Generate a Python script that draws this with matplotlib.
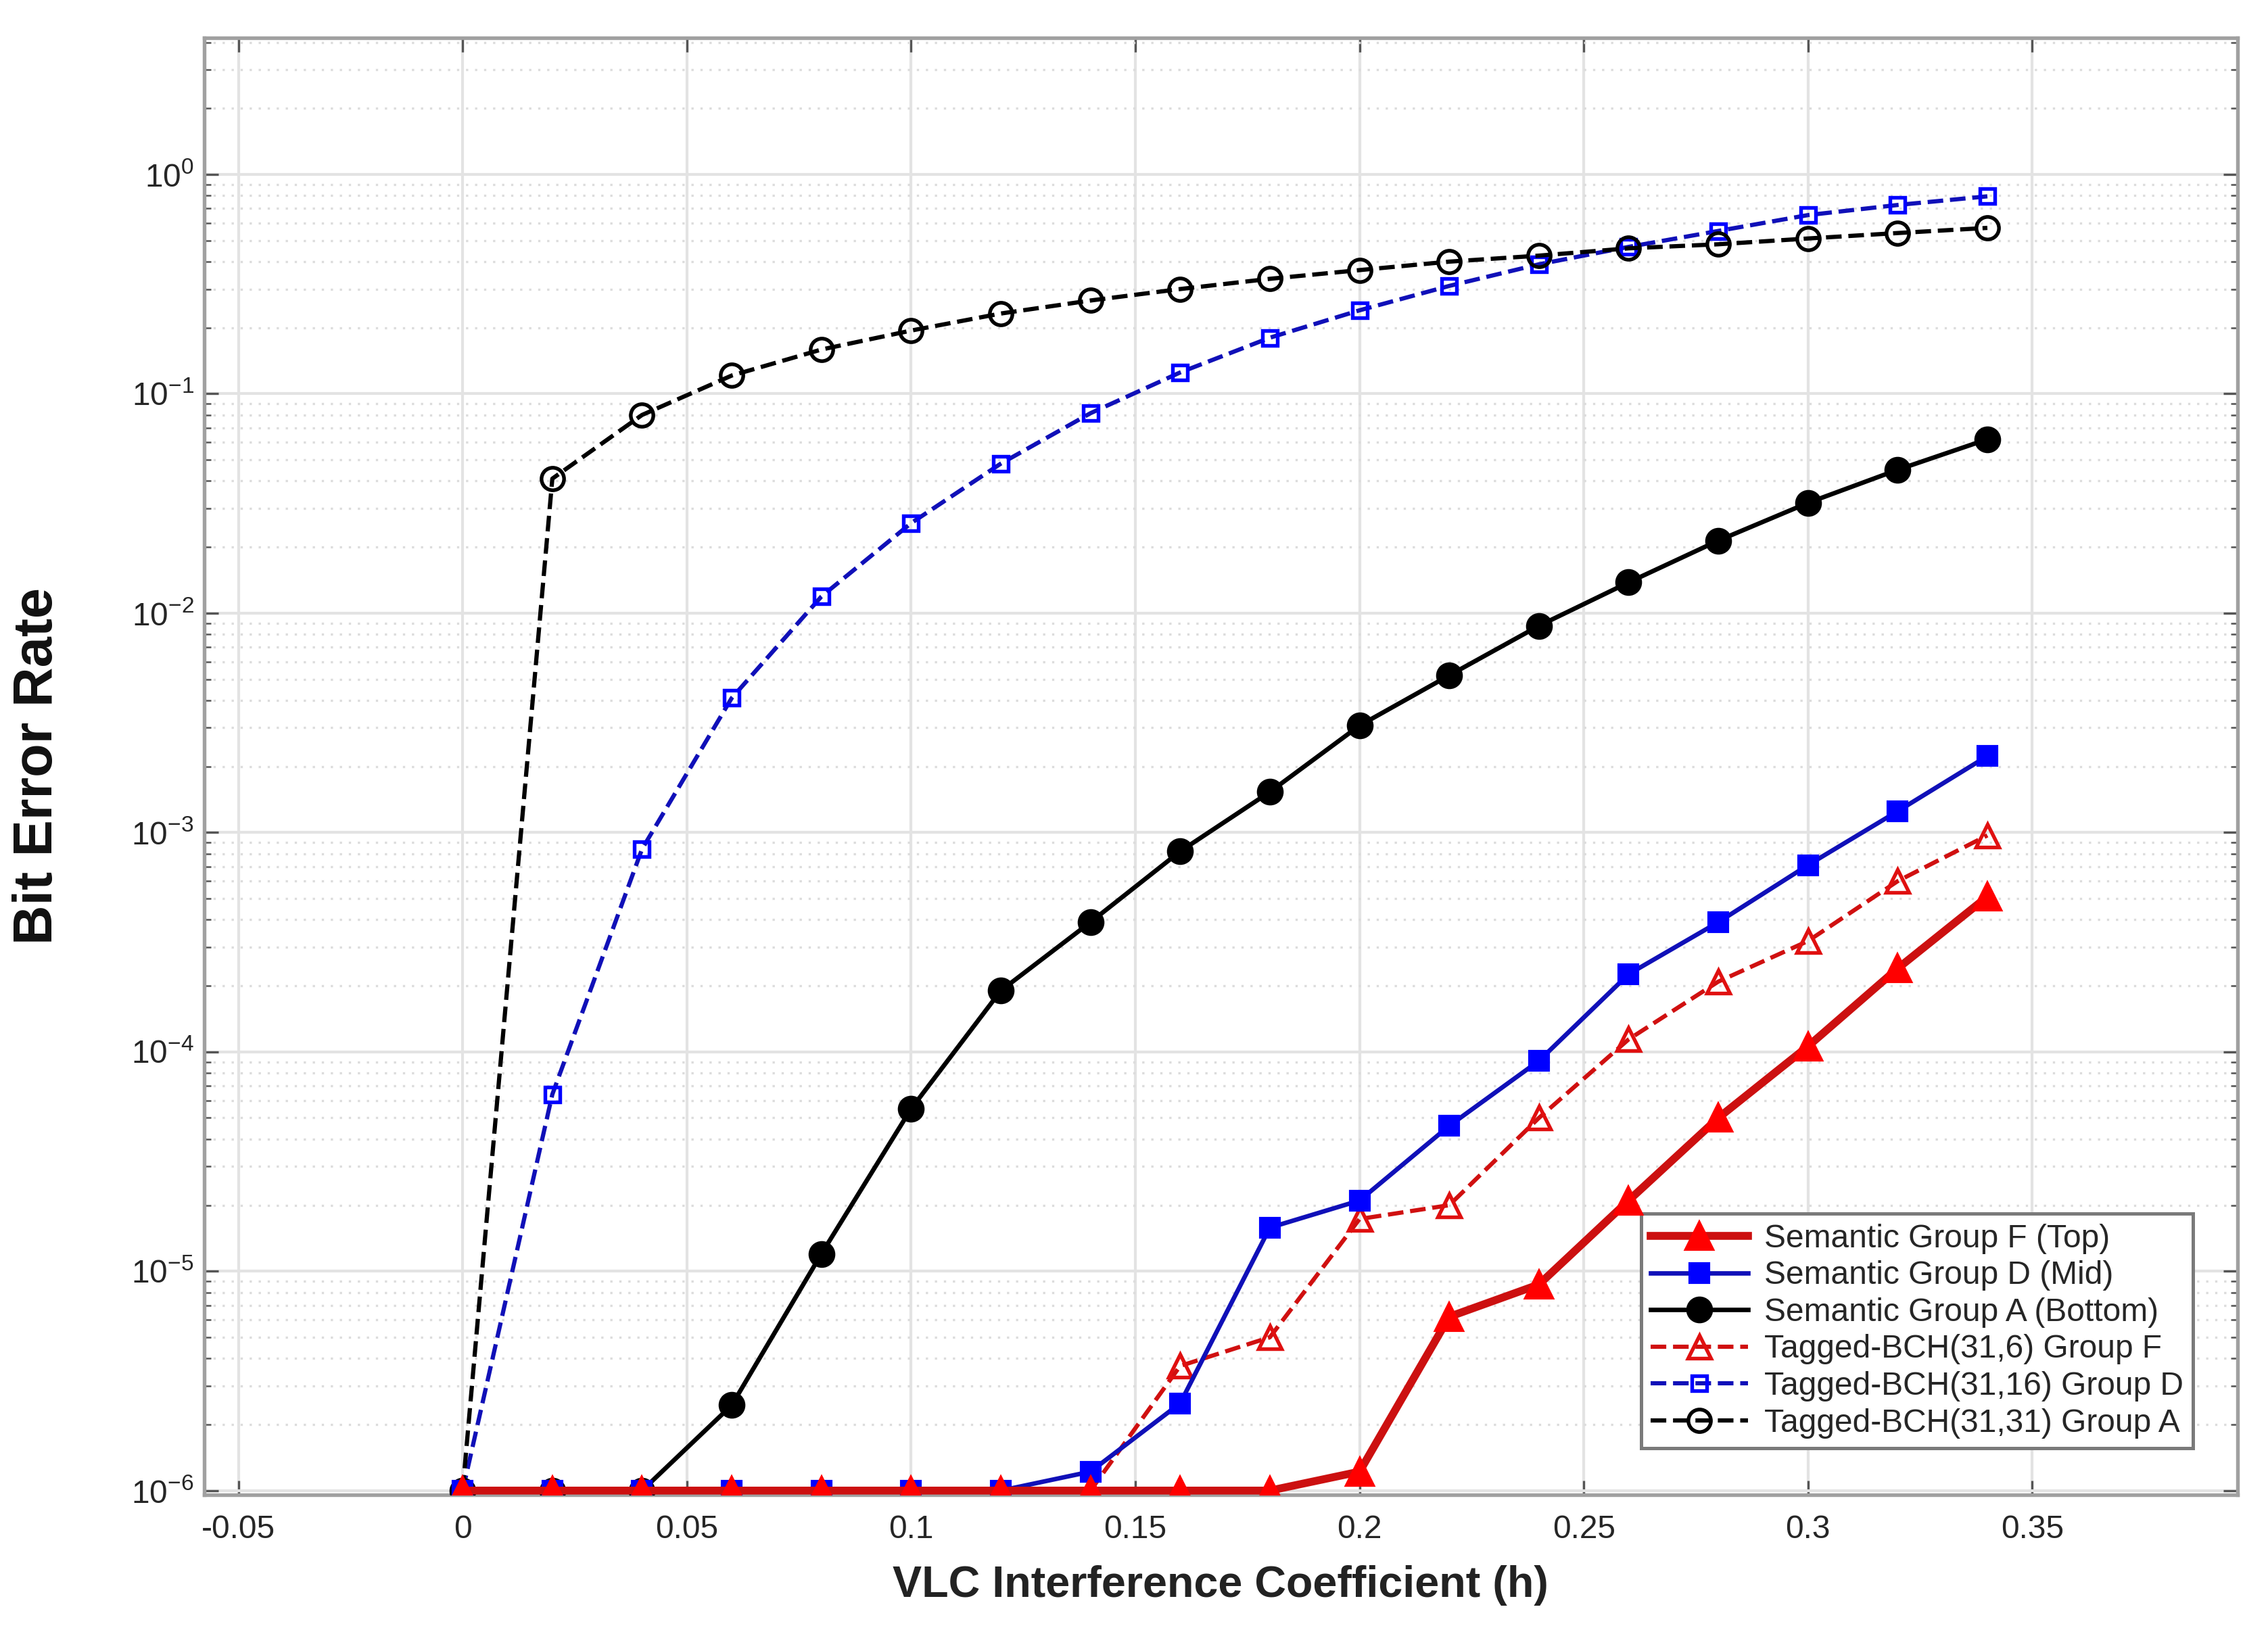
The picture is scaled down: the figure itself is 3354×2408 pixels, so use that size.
import numpy as np
import matplotlib
matplotlib.use("Agg")
import matplotlib.pyplot as plt
from matplotlib.ticker import FixedLocator, NullFormatter

plt.rcParams['font.family'] = ['Liberation Sans', 'DejaVu Sans']
plt.rcParams['mathtext.default'] = 'regular'

# Data
h = [0, 0.02, 0.04, 0.06, 0.08, 0.10, 0.12, 0.14, 0.16,
     0.18, 0.20, 0.22, 0.24, 0.26, 0.28, 0.30, 0.32, 0.34]

sem_F = [1e-6, 1e-6, 1e-6, 1e-6, 1e-6, 1e-6, 1e-6, 1e-6, 1e-6,
         1e-6, 1.22e-6, 6.2e-6, 8.7e-6, 2.1e-5, 5.0e-5, 1.06e-4, 2.4e-4, 5.1e-4]
sem_D = [1e-6, 1e-6, 1e-6, 1e-6, 1e-6, 1e-6, 1e-6, 1.22e-6, 2.5e-6,
         1.58e-5, 2.1e-5, 4.6e-5, 9.1e-5, 2.26e-4, 3.9e-4, 7.1e-4, 1.25e-3, 2.23e-3]
sem_A = [1e-6, 1e-6, 1e-6, 2.45e-6, 1.2e-5, 5.5e-5, 1.9e-4, 3.9e-4, 8.2e-4,
         1.53e-3, 3.07e-3, 5.2e-3, 8.75e-3, 1.38e-2, 2.14e-2, 3.18e-2, 4.5e-2, 6.2e-2]
bch_F = [1e-6, 1e-6, 1e-6, 1e-6, 1e-6, 1e-6, 1e-6, 1e-6, 3.7e-6,
         5.0e-6, 1.73e-5, 2.0e-5, 5.0e-5, 1.14e-4, 2.09e-4, 3.2e-4, 6.0e-4, 9.7e-4]
bch_D = [1e-6, 6.4e-5, 8.4e-4, 4.1e-3, 1.19e-2, 2.57e-2, 4.8e-2, 8.15e-2, 0.125,
         0.18, 0.24, 0.31, 0.389, 0.467, 0.552, 0.652, 0.725, 0.794]
bch_A = [1e-6, 4.1e-2, 8.0e-2, 0.121, 0.159, 0.194, 0.232, 0.266, 0.30,
         0.334, 0.366, 0.40, 0.426, 0.46, 0.48, 0.51, 0.54, 0.57]

xticks = [-0.05, 0, 0.05, 0.1, 0.15, 0.2, 0.25, 0.3, 0.35]
xticklabels = ['-0.05', '0', '0.05', '0.1', '0.15', '0.2', '0.25', '0.3', '0.35']
yticks = [1e-6, 1e-5, 1e-4, 1e-3, 1e-2, 1e-1, 1e0]
yticklabels = ['$10^{-6}$', '$10^{-5}$', '$10^{-4}$', '$10^{-3}$',
               '$10^{-2}$', '$10^{-1}$', '$10^{0}$']

fig = plt.figure(figsize=(3354 / 300, 2408 / 300), dpi=300)
ax = fig.add_axes([0.0899, 0.0817, 0.8967, 0.8952])

ax.semilogy(h, sem_F, '-', color='#cc1010', lw=2.8, marker='^', ms=9.5,
            mfc='#ff0000', mec='#ff0000', zorder=6, label='Semantic Group F (Top)')
ax.semilogy(h, sem_D, '-', color='#1010b8', lw=1.6, marker='s', ms=6.5,
            mfc='#0000ff', mec='#0000ff', zorder=5, label='Semantic Group D (Mid)')
ax.semilogy(h, sem_A, '-', color='black', lw=1.6, marker='o', ms=8.5,
            mfc='black', mec='black', zorder=4, label='Semantic Group A (Bottom)')
ax.semilogy(h, bch_F, '--', color='#d01010', lw=1.5, marker='^', ms=8,
            mfc='none', mec='#e01010', mew=1.3, zorder=3, label='Tagged-BCH(31,6) Group F')
ax.semilogy(h, bch_D, '--', color='#1010b8', lw=1.5, marker='s', ms=5.5,
            mfc='none', mec='#0000ff', mew=1.3, zorder=3, label='Tagged-BCH(31,16) Group D')
ax.semilogy(h, bch_A, '--', color='black', lw=1.5, marker='o', ms=8,
            mfc='none', mec='black', mew=1.3, zorder=3, label='Tagged-BCH(31,31) Group A')

ax.set_xlim(-0.0577, 0.3958)
ax.set_xticks(xticks)
ax.set_xticklabels(xticklabels)
ax.set_yticks(yticks)
ax.set_yticklabels(yticklabels)
minor = [m * 10.0 ** e for e in range(-6, 1) for m in range(2, 10)]
ax.yaxis.set_minor_locator(FixedLocator(minor))
ax.yaxis.set_minor_formatter(NullFormatter())
ax.set_ylim(0.955e-6, 4.2)

ax.grid(True, which='major', color='#e3e3e3', lw=1.0)
ax.grid(True, which='minor', axis='y', color='#dcdcdc', lw=0.8, ls=(0, (1, 3)))
ax.set_axisbelow(True)

for s in ax.spines.values():
    s.set_color('#a0a0a0')
    s.set_linewidth(1.3)
ax.tick_params(which='both', direction='in', top=True, right=True,
               colors='#555555', labelcolor='#262626', labelsize=11.5)
ax.tick_params(which='major', length=5)
ax.tick_params(which='minor', length=2.5)
ax.tick_params(axis='x', pad=7)

ax.set_xlabel('VLC Interference Coefficient (h)', fontsize=15.5, fontweight='bold',
              color='#222222', labelpad=7)
ax.set_ylabel('Bit Error Rate', fontsize=19.5, fontweight='bold', color='#111111',
              labelpad=24)

leg = ax.legend(loc='lower right', bbox_to_anchor=(0.986, 0.021), fontsize=11.5,
                frameon=True, fancybox=False, edgecolor='#7a7a7a', framealpha=1,
                borderpad=0.3, labelspacing=0.2, handlelength=3.0, handletextpad=0.5)
leg.get_frame().set_linewidth(1.2)
for t in leg.get_texts():
    t.set_color('#262626')

fig.savefig('out.png', dpi=300)
